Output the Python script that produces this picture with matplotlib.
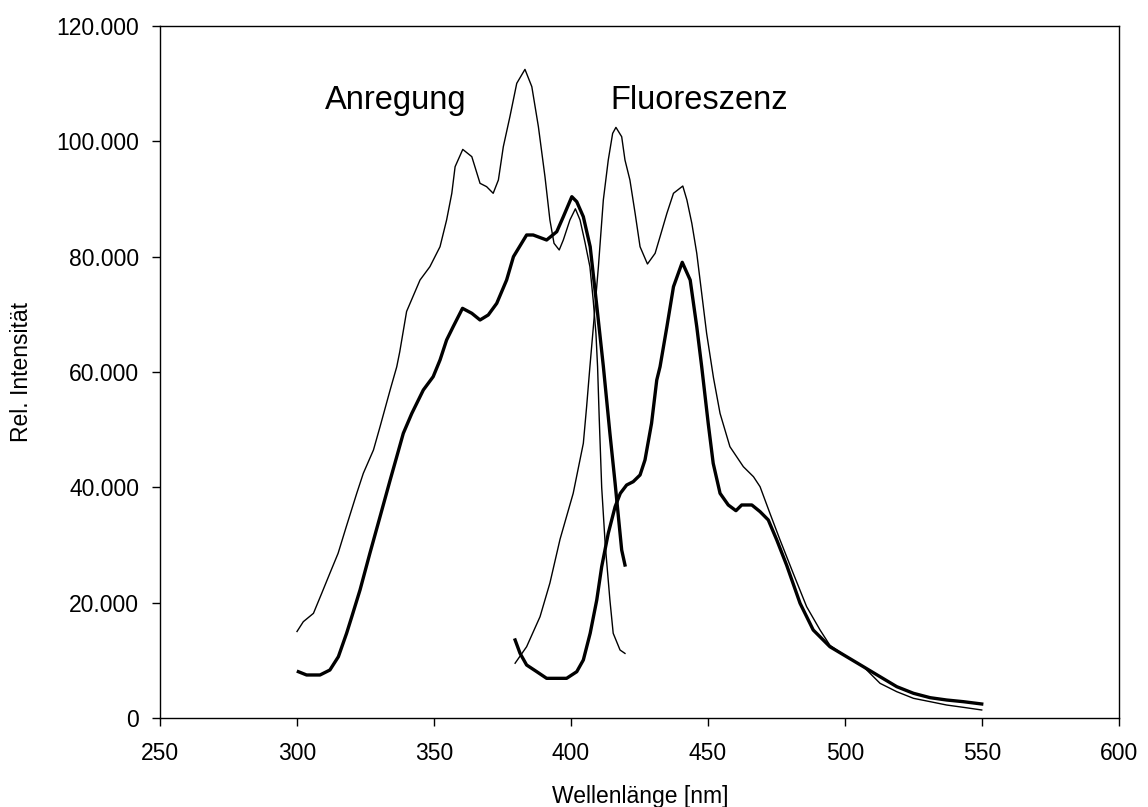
import matplotlib
matplotlib.use("Agg")
import matplotlib.pyplot as plt
from matplotlib.ticker import FixedLocator

plt.rcParams['font.family'] = ['Liberation Sans', 'DejaVu Sans']

# Excitation (Anregung), thin curve
exc_thin_x = [300, 302.3, 306, 309, 312, 315, 318, 321.8, 324.2, 327.9, 330.3, 334, 336.4, 337.5,
              340, 344.9, 348.5, 352.2, 354.6, 356.5, 357.7, 360.5, 363.8, 366.8, 369.2, 371.6,
              373.5, 375.3, 377.7, 380.2, 383.2, 385.7, 388.1, 390.5, 392.3, 393.8, 395.7, 397.2,
              399.6, 401.6, 403.3, 405.1, 406.9, 408.1, 409.1, 409.7, 410.3, 411.2, 412.5, 414.2,
              415.4, 417.9, 419.7]
exc_thin_y = [15000, 16700, 18150, 21600, 25100, 28560, 33200, 38960, 42430, 46470, 50500, 56900,
              60900, 63500, 70500, 75950, 78260, 81730, 86360, 90990, 95600, 98600, 97340, 92720,
              92140, 90990, 93300, 99070, 104270, 110060, 112480, 109480, 102540, 93870, 86360,
              82320, 81160, 82900, 86360, 88300, 86360, 82500, 78260, 72480, 66700, 60900, 52000,
              40000, 30000, 20460, 14690, 11790, 11200]

# Excitation (Anregung), thick curve
exc_thick_x = [300.5, 303.5, 308.4, 312, 315.1, 318.1, 320, 323, 326.6, 330.3, 334, 336.4, 338.8,
               341.9, 346.1, 349.7, 352.2, 354.6, 357, 360.4, 363.8, 366.8, 369.8, 372.9, 376.5,
               379, 383.8, 386.2, 391.1, 394.8, 397.2, 400.3, 402.1, 404.5, 407, 409.4, 411.8,
               414.2, 416.1, 417.3, 418.5, 419.7]
exc_thick_y = [8030, 7460, 7460, 8320, 10630, 14690, 17570, 22200, 28560, 34900, 41270, 45310,
               49370, 52820, 56880, 59190, 62080, 65550, 67860, 71040, 70180, 69020, 69890, 71910,
               75950, 80000, 83760, 83760, 82890, 84330, 86930, 90400, 89530, 86930, 81730, 71500,
               61000, 49370, 40700, 34900, 29130, 26530]

# Fluorescence (Fluoreszenz), thin curve
fl_thin_x = [379.6, 383.8, 388.7, 392.3, 396, 400.8, 404.5, 405.7, 406.9, 408.1, 410, 411.8, 413.6,
             415.2, 416.4, 418.5, 419.7, 421.5, 423.4, 425.2, 427.9, 430.7, 432.5, 435, 437.4,
             440.8, 442.3, 444.1, 445.9, 447.7, 449.5, 452, 454.4, 458, 462.9, 466.6, 469, 472.6,
             476.3, 481.1, 486, 490.9, 494.5, 500.6, 506.7, 512.8, 518.9, 525, 531.1, 537.1,
             543.2, 549.9]
fl_thin_y = [9500, 12360, 17570, 23400, 31000, 38960, 47630, 53980, 60920, 67500, 78260, 89830,
             96760, 101380, 102420, 100800, 96760, 93300, 87520, 81730, 78730, 80580, 83460, 87520,
             90990, 92250, 89830, 85780, 80580, 73640, 66700, 59000, 52820, 47050, 43580, 41840,
             40110, 35500, 30870, 25090, 19300, 15260, 12600, 10630, 8900, 6010, 4560, 3410, 2830,
             2250, 1850, 1390]

# Fluorescence (Fluoreszenz), thick curve
fl_thick_x = [379.6, 381.4, 383.8, 387.5, 391.1, 398.4, 402.1, 404.5, 407, 409.4, 411.2, 413.6,
              416.1, 418, 420.3, 422.7, 425.2, 427, 429.4, 431.3, 432.5, 435, 437.4, 440.6, 443.5,
              445.9, 447.7, 450.1, 451.9, 454.4, 457.4, 460.2, 462.3, 466, 469, 472, 475.1, 478.7,
              483.6, 488.4, 494.5, 500.6, 506.7, 512.8, 518.9, 525, 531.1, 537.1, 543.2, 549.9]
fl_thick_y = [13530, 11220, 9190, 8030, 6880, 6880, 8030, 10060, 14690, 20460, 26240, 32020,
              36640, 38960, 40400, 40980, 42140, 44740, 51100, 58610, 60920, 67850, 74790, 79020,
              75950, 67850, 60920, 51000, 44160, 38960, 36940, 35950, 36940, 36940, 35780, 34340,
              30870, 26500, 19890, 15260, 12360, 10630, 8900, 7160, 5430, 4280, 3520, 3120, 2830,
              2430]

x_ticks = [250, 300, 350, 400, 450, 500, 550, 600]
y_ticks = [0, 20000, 40000, 60000, 80000, 100000, 120000]
y_tick_labels = ["0", "20.000", "40.000", "60.000", "80.000", "100.000", "120.000"]

fig = plt.figure(figsize=(11.48, 8.07), dpi=100)
ax = fig.add_axes([160/1148, 1-718/807, (1119-160)/1148, (718-26)/807])

ax.plot(exc_thin_x, exc_thin_y, color='black', lw=1.0)
ax.plot(fl_thin_x, fl_thin_y, color='black', lw=1.0)
ax.plot(exc_thick_x, exc_thick_y, color='black', lw=2.4)
ax.plot(fl_thick_x, fl_thick_y, color='black', lw=2.4)

ax.set_xlim(250, 600)
ax.set_ylim(0, 120000)
ax.xaxis.set_major_locator(FixedLocator(x_ticks))
ax.set_yticks(y_ticks)
ax.set_yticklabels(y_tick_labels)
ax.set_xticklabels([str(v) for v in x_ticks])
ax.tick_params(direction='out', length=6, width=1, labelsize=16.5, colors='black')
ax.tick_params(axis='y', pad=9)
ax.tick_params(axis='x', pad=11)
for s in ax.spines.values():
    s.set_linewidth(1.0)
    s.set_color('black')

ax.set_xlabel("Wellenlänge [nm]", fontsize=16.5)
ax.set_ylabel("Rel. Intensität", fontsize=16.5)
ax.xaxis.label.set_va('center')
ax.yaxis.label.set_va('center')
ax.xaxis.set_label_coords((640-160)/959, (718-797)/692)
ax.yaxis.set_label_coords((22-160)/959, 0.5)

ax.text(310.2, 107000, "Anregung", fontsize=23.5, va='center', ha='left')
ax.text(414.2, 107000, "Fluoreszenz", fontsize=23.5, va='center', ha='left')

fig.savefig("out.png", dpi=100)
